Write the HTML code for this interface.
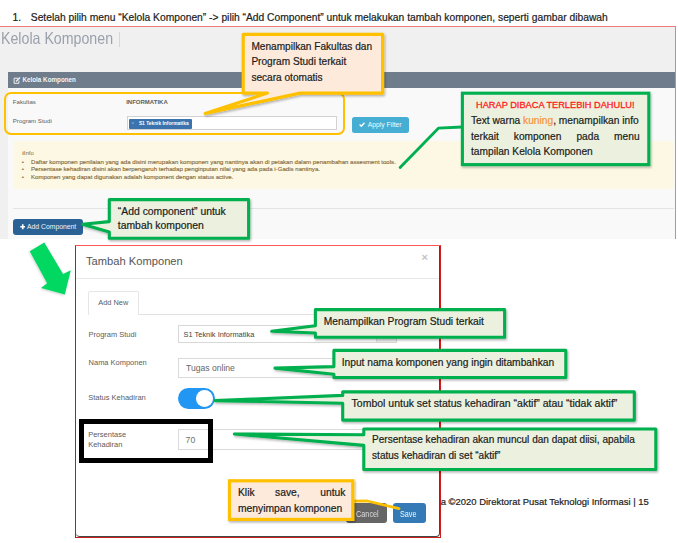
<!DOCTYPE html>
<html><head><meta charset="utf-8">
<style>
*{margin:0;padding:0;box-sizing:border-box}
html,body{width:678px;height:543px;overflow:hidden;background:#fff;font-family:"Liberation Sans",sans-serif;position:relative}
.a{position:absolute;white-space:nowrap}
.b{position:absolute}
.doc{color:#1c1c1c;-webkit-text-stroke:0.2px #1c1c1c}
.ui{color:#5c5c5c}
.jl{display:flex;justify-content:space-between}
.inf{font-size:6.1px;line-height:6.1px;color:#8a6d3b;-webkit-text-stroke:0.15px #8a6d3b}
.clip{position:absolute;left:0;top:0;overflow:hidden}
</style></head><body>

<!-- top instruction -->
<div class="a doc" style="left:12.6px;top:13px;font-size:10.3px;line-height:10.3px">1.</div>
<div class="a doc" style="left:30.8px;top:13px;font-size:10.29px;line-height:10.29px">Setelah pilih menu “Kelola Komponen” -&gt; pilih “Add Component” untuk melakukan tambah komponen, seperti gambar dibawah</div>

<!-- ============ screenshot 1 ============ -->
<div class="clip" style="width:675px;height:239px">
  <div class="b" style="left:0;top:26.7px;width:675px;height:213px;background:#f0f0f0"></div>
  <div class="a" style="left:0.8px;top:30px;font-size:16.5px;line-height:16.5px;color:#9aa1ab;transform:scaleX(0.86);transform-origin:0 0">Kelola Komponen</div>
  <div class="b" style="left:119.2px;top:31.8px;width:1px;height:15px;background:#d6d6d6"></div>
  <!-- panel -->
  <div class="b" style="left:8px;top:72px;width:667px;height:167px;background:#f9f9f9"></div>
  <div class="b" style="left:8px;top:72px;width:667px;height:16px;background:#6e7c8b"></div>
  <svg class="b" style="left:12.5px;top:76.5px" width="8" height="7" viewBox="0 0 8 7"><path d="M5 1.2H1.1V6.3H5.9V3.6" fill="none" stroke="#eef1f4" stroke-width="1"/><path d="M3 4.4L7 0.6" stroke="#eef1f4" stroke-width="1.4"/></svg>
  <div class="a" style="left:22.5px;top:77px;font-size:6.29px;line-height:6.29px;color:#f4f6f8;font-weight:bold">Kelola Komponen</div>
  <!-- fakultas rows -->
  <div class="a ui" style="left:12.8px;top:99px;font-size:6.1px;line-height:6.1px">Fakultas</div>
  <div class="a ui" style="left:126.2px;top:99px;font-size:6.0px;line-height:6px;font-weight:bold">INFORMATIKA</div>
  <div class="a ui" style="left:12.8px;top:118px;font-size:6.1px;line-height:6.1px">Program Studi</div>
  <div class="b" style="left:126.5px;top:116.2px;width:210px;height:14.2px;background:#fff;border:1px solid #d2d2d2"></div>
  <div class="b" style="left:129.4px;top:118.6px;width:62.3px;height:10px;background:#3a73ad;border-radius:1px"></div>
  <div class="a" style="left:131.3px;top:121px;font-size:5px;line-height:5px;color:#8fb3d9">×</div>
  <div class="a" style="left:138.9px;top:122px;font-size:4.85px;line-height:4.85px;color:#fff;font-weight:bold">S1 Teknik Informatika</div>
  <!-- apply filter -->
  <div class="b" style="left:352px;top:117px;width:57px;height:15.5px;background:#47aed3;border-radius:2.5px"></div>
  <svg class="b" style="left:359.3px;top:122px" width="6" height="5" viewBox="0 0 6 5"><path d="M0.6 2.6L2.3 4.2L5.5 0.8" fill="none" stroke="#fff" stroke-width="1.4"/></svg>
  <div class="a" style="left:367.8px;top:122px;font-size:6.76px;line-height:6.76px;color:#f2fafd">Apply Filter</div>
  <!-- info box -->
  <div class="b" style="left:14px;top:140.7px;width:660px;height:47.9px;background:#fcf8e3"></div>
  <div class="a" style="left:22.2px;top:150px;font-size:6.07px;line-height:6.07px;color:#8a6d3b"><b style="font-size:5.5px">i</b>Info</div>
  <div class="a inf" style="left:21.8px;top:159px">•</div><div class="a inf" style="left:21.8px;top:166px">•</div><div class="a inf" style="left:21.8px;top:174px">•</div>
  <div class="a inf" style="left:31px;top:159px">Daftar komponen penilaian yang ada disini merupakan komponen yang nantinya akan di petakan dalam penambahan assesment tools.</div><div class="a inf" style="left:31px;top:166px">Persentase kehadiran disini akan berpengaruh terhadap penginputan nilai yang ada pada i-Gadis nantinya.</div><div class="a inf" style="left:31px;top:174px">Komponen yang dapat digunakan adalah komponent dengan status active.</div>
  <!-- separator -->
  <div class="b" style="left:13px;top:207.5px;width:661px;height:1px;background:#e4e4e4"></div>
  <!-- add component button -->
  <div class="b" style="left:13px;top:218.8px;width:70.3px;height:16.1px;background:#2a6296;border-radius:3px"></div>
  <svg class="b" style="left:19.6px;top:224px" width="5.5" height="5.5" viewBox="0 0 5.5 5.5"><path d="M2.75 0.3V5.2M0.3 2.75H5.2" stroke="#fff" stroke-width="1.6"/></svg>
  <div class="a" style="left:27px;top:224px;font-size:6.82px;line-height:6.82px;color:#f0f4f8">Add Component</div>
  <!-- orange rounded rect -->
  <div class="b" style="left:4px;top:92px;width:341.2px;height:42.5px;border:2.4px solid #ffc000;border-radius:7px"></div>
</div>
<!-- red border screenshot 1 -->
<div class="b" style="left:0;top:25.9px;width:675.8px;height:1.3px;background:#f07b7b"></div>
<div class="b" style="left:674.6px;top:25.9px;width:1.3px;height:213px;background:#f07b7b"></div>

<!-- ============ modal ============ -->
<div class="b" style="left:75px;top:245px;width:366px;height:293px;background:#fff;border:1px solid #d21c1c;border-top-color:#ff5656;border-left-color:#c41616"></div>
<div class="b" style="left:76px;top:246px;width:364px;height:291px;border-right:1px solid #3f4a44;border-bottom:1px solid #3f4a44;border-radius:0 0 4px 4px"></div>
<div class="clip" style="width:439px;height:536px">
  <div class="a" style="left:86px;top:256px;font-size:11.16px;line-height:11.16px;color:#555">Tambah Komponen</div>
  <div class="a" style="left:421.4px;top:251.5px;font-size:11px;line-height:11px;color:#c4c4c4;font-weight:bold">×</div>
  <div class="b" style="left:76px;top:278px;width:363px;height:1px;background:#e8e8e8"></div>
  <!-- tab -->
  <div class="b" style="left:88.3px;top:313.5px;width:351px;height:1px;background:#e2e2e2"></div>
  <div class="b" style="left:88.3px;top:291.1px;width:50.7px;height:24px;background:#fff;border:1px solid #e6e6e6;border-bottom:none;border-radius:2px 2px 0 0"></div>
  <div class="a ui" style="left:98.3px;top:299px;font-size:7.4px;line-height:7.4px">Add New</div>
  <!-- labels -->
  <div class="a ui" style="left:88.6px;top:331px;font-size:7.48px;line-height:7.48px">Program Studi</div>
  <div class="a ui" style="left:88.6px;top:359px;font-size:7.48px;line-height:7.48px">Nama Komponen</div>
  <div class="a ui" style="left:88.2px;top:394px;font-size:7.5px;line-height:7.5px">Status Kehadiran</div>
  <div class="a ui" style="left:88.2px;top:431px;font-size:7.5px;line-height:7.5px">Persentase</div><div class="a ui" style="left:88.2px;top:441px;font-size:7.5px;line-height:7.5px">Kehadiran</div>
  <!-- select -->
  <div class="b" style="left:177.5px;top:324.9px;width:219.1px;height:18.6px;border:1px solid #d8d8d8;background:#fff"></div>
  <div class="b" style="left:376.4px;top:325.9px;width:19.2px;height:16.6px;background:#eeeeee;border-left:1px solid #dcdcdc"></div>
  <div class="a" style="left:183.6px;top:331px;font-size:7.42px;line-height:7.42px;color:#444">S1 Teknik Informatika</div>
  <!-- nama input -->
  <div class="b" style="left:177.5px;top:357.5px;width:260px;height:20.5px;border:1px solid #dadada;background:#fff"></div>
  <div class="a" style="left:186px;top:364px;font-size:8.61px;line-height:8.61px;color:#666">Tugas online</div>
  <!-- toggle -->
  <div class="b" style="left:177.7px;top:388.1px;width:37.3px;height:20.7px;border-radius:10.4px;background:#2196f3"></div>
  <div class="b" style="left:196.4px;top:390.2px;width:16.8px;height:16.6px;border-radius:50%;background:#fff"></div>
  <!-- 70 input -->
  <div class="b" style="left:177.5px;top:429px;width:260px;height:20.7px;border:1px solid #dadada;background:#fff"></div>
  <div class="a" style="left:185.6px;top:436px;font-size:8.7px;line-height:8.7px;color:#707070">70</div>
  <!-- black rect -->
  <div class="b" style="left:79px;top:418.9px;width:134px;height:43.8px;border:5px solid #000"></div>
  <!-- buttons -->
  <div class="b" style="left:346px;top:503.1px;width:41px;height:20.3px;background:#666;border-radius:3px"></div>
  <div class="a" style="left:355.6px;top:510px;font-size:8.6px;line-height:8.6px;color:#dedede;transform:scaleX(0.85);transform-origin:0 0">Cancel</div>
  <div class="b" style="left:392.8px;top:503.1px;width:33px;height:20.3px;background:#337ab7;border-radius:3px"></div>
  <div class="a" style="left:400.3px;top:510px;font-size:8.6px;line-height:8.6px;color:#f4f8fc;transform:scaleX(0.84);transform-origin:0 0">Save</div>
</div>

<!-- footer -->
<div class="a doc" style="left:440.7px;top:497px;font-size:9.45px;line-height:9.45px">a ©2020 Direktorat Pusat Teknologi Informasi | 15</div>

<!-- shapes overlay -->
<svg class="b" style="left:0;top:0" width="678" height="543" viewBox="0 0 678 543">
  <defs>
    <filter id="sh" x="-10%" y="-10%" width="130%" height="140%">
      <feDropShadow dx="1" dy="1.5" stdDeviation="0.9" flood-color="#000" flood-opacity="0.3"/>
    </filter>
    <filter id="sh2" x="-20%" y="-20%" width="150%" height="150%">
      <feDropShadow dx="-0.6" dy="1.2" stdDeviation="0.8" flood-color="#000" flood-opacity="0.18"/>
    </filter>
  </defs>
  <!-- green arrow -->
  <polygon points="29.7,251.3 44.3,242.6 63.1,273.9 70.8,270.3 64.8,294.4 41,287.9 47.1,283.3" fill="#03d862" filter="url(#sh2)"/>
  <!-- orange callout 1 -->
  <path d="M243.2,34.3 H382.6 V93.1 H300.1 L205.2,113.4 L267.4,93.1 H243.2 Z" fill="#fdeada" stroke="#ffc000" stroke-width="3.2" stroke-linejoin="round" filter="url(#sh)"/>
  <!-- green callout HARAP -->
  <polyline points="462,127 438.4,128.2 400.1,167.6" fill="none" stroke="#00b050" stroke-width="2.8" stroke-linecap="round" stroke-linejoin="round"/>
  <rect x="462.4" y="93.2" width="186.4" height="71.4" fill="#ebf1de" stroke="#00b050" stroke-width="3.1" filter="url(#sh)"/>
  <!-- green callout add component -->
  <path d="M109.3,199.6 H248.6 V238.2 H109.3 V232 L82.6,224.3 L109.3,221.6 Z" fill="#ebf1de" stroke="#00b050" stroke-width="3.1" stroke-linejoin="round" filter="url(#sh)"/>
  <!-- modal callouts -->
  <path d="M315.4,309.6 H504.6 V337.2 H315.4 V333 L271.7,331.2 L315.4,325.7 Z" fill="#ebf1de" stroke="#00b050" stroke-width="3.1" stroke-linejoin="round" filter="url(#sh)"/>
  <path d="M333.9,350.4 H565.8 V377.5 H333.9 V374.3 L275,368.1 L333.9,366.6 Z" fill="#ebf1de" stroke="#00b050" stroke-width="3.1" stroke-linejoin="round" filter="url(#sh)"/>
  <path d="M342.7,391.9 H634.3 V420.1 H342.7 V403.3 L215.1,400.6 L342.7,395.4 Z" fill="#ebf1de" stroke="#00b050" stroke-width="3.1" stroke-linejoin="round" filter="url(#sh)"/>
  <path d="M363.8,429 H655.8 V469.5 H363.8 V445.4 L234.4,434 L363.8,434.7 Z" fill="#ebf1de" stroke="#00b050" stroke-width="3.1" stroke-linejoin="round" filter="url(#sh)"/>
  <!-- orange save callout -->
  <polyline points="353,501.2 367.3,501 399,508.6" fill="none" stroke="#ffc000" stroke-width="2.8" stroke-linecap="round" stroke-linejoin="round"/>
  <rect x="229.5" y="480.8" width="123.3" height="38.6" fill="#fdeada" stroke="#ffc000" stroke-width="3.2" filter="url(#sh)"/>
</svg>

<!-- callout texts -->
<div class="a doc" style="left:251.4px;top:42px;font-size:10.1px;line-height:10.1px">Menampilkan Fakultas dan</div><div class="a doc" style="left:251.4px;top:57px;font-size:10.1px;line-height:10.1px">Program Studi terkait</div><div class="a doc" style="left:251.4px;top:73px;font-size:10.1px;line-height:10.1px">secara otomatis</div>
<div class="a" style="left:471px;top:101px;width:168.6px;text-align:center;color:#ff1d1d;font-size:9.23px;line-height:9.23px;-webkit-text-stroke:0.3px #ff1d1d">HARAP DIBACA TERLEBIH DAHULU!</div>
<div class="a doc" style="left:471px;top:116px;font-size:10.2px;line-height:10.2px">Text warna <span style="color:#f7923a;-webkit-text-stroke:0.2px #f7923a">kuning</span>, menampilkan info</div>
<div class="a doc jl" style="left:471px;top:132px;width:168.6px;font-size:10.2px;line-height:10.2px"><span>terkait</span><span>komponen</span><span>pada</span><span>menu</span></div>
<div class="a doc" style="left:471px;top:147px;font-size:10.2px;line-height:10.2px">tampilan Kelola Komponen</div>
<div class="a doc" style="left:117.8px;top:207px;font-size:10.4px;line-height:10.4px">“Add component” untuk</div><div class="a doc" style="left:117.8px;top:221px;font-size:10.4px;line-height:10.4px">tambah komponen</div>
<div class="a doc" style="left:323.8px;top:317px;font-size:10.25px;line-height:10.25px">Menampilkan Program Studi terkait</div>
<div class="a doc" style="left:341.7px;top:358px;font-size:10.23px;line-height:10.23px">Input nama komponen yang ingin ditambahkan</div>
<div class="a doc" style="left:351.6px;top:399px;font-size:10.49px;line-height:10.49px">Tombol untuk set status kehadiran “aktif” atau “tidak aktif”</div>
<div class="a doc" style="left:372.1px;top:435px;font-size:10.04px;line-height:10.04px">Persentase kehadiran akan muncul dan dapat diisi, apabila</div><div class="a doc" style="left:372.1px;top:451px;font-size:10.04px;line-height:10.04px">status kehadiran di set “aktif”</div>
<div class="a doc jl" style="left:238px;top:488px;width:107.4px;font-size:10.3px;line-height:10.3px"><span>Klik</span><span>save,</span><span>untuk</span></div>
<div class="a doc" style="left:238px;top:504px;font-size:10.3px;line-height:10.3px">menyimpan komponen</div>

</body></html>
